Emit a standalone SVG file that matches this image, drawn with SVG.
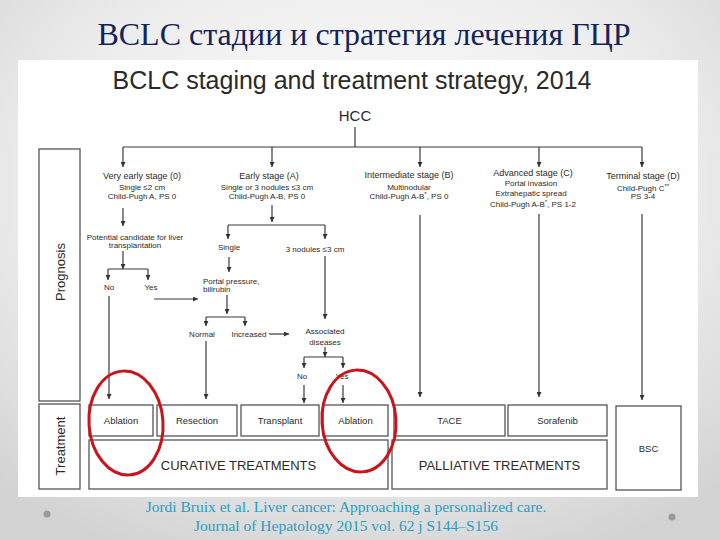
<svg xmlns="http://www.w3.org/2000/svg" width="720" height="540" viewBox="0 0 720 540">
<defs>
<radialGradient id="bg" cx="50%" cy="35%" r="75%">
<stop offset="0" stop-color="#ffffff"/>
<stop offset="0.6" stop-color="#ececec"/>
<stop offset="1" stop-color="#d2d2d2"/>
</radialGradient>
<marker id="ah" viewBox="0 0 10 10" refX="10" refY="5" markerWidth="6" markerHeight="5" markerUnits="userSpaceOnUse" orient="auto">
<path d="M0,0 L10,5 L0,10 z" fill="#333"/>
</marker>
</defs>
<style>
.t{font-family:"Liberation Sans",Arial,sans-serif;fill:#2a2a2a;text-anchor:middle}
.h{font-size:9px}
.s{font-size:8px}
.b{font-size:9.5px}
.big{font-size:13px}
.box{fill:#fff;stroke:#555;stroke-width:1.3}
.ln{fill:none;stroke:#3a3a3a;stroke-width:1.2}
.ar{fill:none;stroke:#3a3a3a;stroke-width:1.2;marker-end:url(#ah)}
.red{fill:none;stroke:#c8141a;stroke-width:3}
.cit{font-family:"Liberation Serif","Times New Roman",serif;font-size:15.5px;fill:#2a9cc4;text-anchor:middle}
</style>
<rect width="720" height="540" fill="url(#bg)"/>
<text x="364" y="45" font-family="'Liberation Serif','Times New Roman',serif" font-size="32" fill="#14245a" text-anchor="middle">BCLC стадии и стратегия лечения ГЦР</text>
<rect x="18" y="60" width="680" height="437" fill="#ffffff"/>
<text x="352" y="89" class="t" font-size="25">BCLC staging and treatment strategy, 2014</text>

<g id="connectors">
<path class="ln" d="M355,127 V147 M123,147 H642"/>
<path class="ar" d="M123,147 V167"/>
<path class="ar" d="M272,147 V167"/>
<path class="ar" d="M420,147 V167"/>
<path class="ar" d="M539,147 V167"/>
<path class="ar" d="M642,147 V167"/>
<path class="ar" d="M123,208 V226"/>
<path class="ar" d="M123,251 V269"/>
<path class="ln" d="M108,269 H148"/>
<path class="ar" d="M108,269 V280"/>
<path class="ar" d="M148,269 V280"/>
<path class="ar" d="M109,296 V399"/>
<path class="ar" d="M154,299 H198"/>
<path class="ar" d="M272,205 V222"/>
<path class="ln" d="M228,225 H325"/>
<path class="ar" d="M228,225 V239"/>
<path class="ar" d="M325,225 V239"/>
<path class="ar" d="M229,257 V272"/>
<path class="ar" d="M227,295 V314"/>
<path class="ln" d="M206,317 H245"/>
<path class="ar" d="M206,317 V326"/>
<path class="ar" d="M245,317 V326"/>
<path class="ar" d="M206,341 V399"/>
<path class="ar" d="M269,334 H289"/>
<path class="ar" d="M325,256 V319"/>
<path class="ar" d="M325,347 V357"/>
<path class="ln" d="M304,357 H343"/>
<path class="ar" d="M304,357 V368"/>
<path class="ar" d="M343,357 V368"/>
<path class="ar" d="M304,385 V403"/>
<path class="ar" d="M343,385 V403"/>
<path class="ar" d="M420,215 V397"/>
<path class="ar" d="M539,214 V397"/>
<path class="ar" d="M642,214 V400"/>
</g>

<g id="hcc"><text x="355" y="121" class="t" font-size="15">HCC</text></g>

<g id="stage0">
<text x="142" y="179" class="t h">Very early stage (0)</text>
<text x="142" y="190" class="t s">Single ≤2 cm</text>
<text x="142" y="199" class="t s">Child-Pugh A, PS 0</text>
</g>
<g id="stageA">
<text x="269" y="179" class="t h">Early stage (A)</text>
<text x="267" y="190" class="t s">Single or 3 nodules ≤3 cm</text>
<text x="267" y="199" class="t s">Child-Pugh A-B, PS 0</text>
</g>
<g id="stageB">
<text x="409" y="178" class="t h">Intermediate stage (B)</text>
<text x="409" y="190" class="t s">Multinodular</text>
<text x="409" y="199" class="t s">Child-Pugh A-B<tspan dy="-3" font-size="6">*</tspan><tspan dy="3">, PS 0</tspan></text>
</g>
<g id="stageC">
<text x="533" y="176" class="t h">Advanced stage (C)</text>
<text x="531" y="186" class="t s">Portal invasion</text>
<text x="531" y="196" class="t s">Extrahepatic spread</text>
<text x="533" y="207" class="t s">Child-Pugh A-B<tspan dy="-3" font-size="6">*</tspan><tspan dy="3">, PS 1-2</tspan></text>
</g>
<g id="stageD">
<text x="643" y="179" class="t h">Terminal stage (D)</text>
<text x="643" y="191" class="t s">Child-Pugh C<tspan dy="-3" font-size="6">**</tspan></text>
<text x="643" y="199" class="t s">PS 3-4</text>
</g>
<g id="candidate">
<text x="135" y="240" class="t s">Potential candidate for liver</text>
<text x="135" y="248" class="t s">transplantation</text>
</g>
<g id="no1"><text x="109" y="290" class="t s">No</text></g>
<g id="yes1"><text x="151" y="290" class="t s">Yes</text></g>
<g id="single"><text x="229" y="250" class="t s">Single</text></g>
<g id="nodules3"><text x="315" y="252" class="t s">3 nodules ≤3 cm</text></g>
<g id="portal">
<text x="203" y="284" class="t s" style="text-anchor:start">Portal pressure,</text>
<text x="203" y="292" class="t s" style="text-anchor:start">bilirubin</text>
</g>
<g id="normal"><text x="202" y="337" class="t s">Normal</text></g>
<g id="increased"><text x="249" y="337" class="t s">Increased</text></g>
<g id="associated">
<text x="325" y="334" class="t s">Associated</text>
<text x="325" y="345" class="t s">diseases</text>
</g>
<g id="no2"><text x="302" y="379" class="t s">No</text></g>
<g id="yes2"><text x="342" y="379" class="t s">Yes</text></g>

<g id="prognosis">
<rect class="box" x="39" y="149" width="41" height="252"/>
<text class="t big" transform="translate(65,272) rotate(-90)">Prognosis</text>
</g>
<g id="treatment">
<rect class="box" x="39" y="404" width="41" height="85"/>
<text class="t big" transform="translate(65,446) rotate(-90)">Treatment</text>
</g>
<g id="ablation1"><rect class="box" x="89" y="405" width="64" height="31"/><text x="121" y="424" class="t b">Ablation</text></g>
<g id="resection"><rect class="box" x="157" y="405" width="80" height="31"/><text x="197" y="424" class="t b">Resection</text></g>
<g id="transplant"><rect class="box" x="241" y="405" width="78" height="31"/><text x="280" y="424" class="t b">Transplant</text></g>
<g id="ablation2"><rect class="box" x="323" y="405" width="65" height="31"/><text x="355.5" y="424" class="t b">Ablation</text></g>
<g id="tace"><rect class="box" x="394" y="405" width="111" height="31"/><text x="449.5" y="424" class="t b">TACE</text></g>
<g id="sorafenib"><rect class="box" x="508" y="405" width="99" height="31"/><text x="557.5" y="424" class="t b">Sorafenib</text></g>
<g id="curative"><rect class="box" x="89" y="440" width="299" height="49"/><text x="238.5" y="470" class="t big">CURATIVE TREATMENTS</text></g>
<g id="palliative"><rect class="box" x="392" y="440" width="215" height="49"/><text x="499.5" y="470" class="t big">PALLIATIVE TREATMENTS</text></g>
<g id="bsc"><rect class="box" x="616" y="406" width="65" height="84"/><text x="648.5" y="452" class="t b">BSC</text></g>

<g id="highlights">
<ellipse class="red" cx="126" cy="423" rx="37" ry="52" transform="rotate(-4 126 423)"/>
<ellipse class="red" cx="359" cy="421" rx="37" ry="51" transform="rotate(-4 359 421)"/>
</g>

<text x="346" y="512" class="cit">Jordi Bruix et al. Liver cancer: Approaching a personalized care.</text>
<text x="346" y="531" class="cit">Journal of Hepatology 2015 vol. 62 j S144–S156</text>
<circle cx="47" cy="514" r="3.5" fill="#9a9a9a"/>
<circle cx="672" cy="517" r="3.5" fill="#9a9a9a"/>
</svg>
